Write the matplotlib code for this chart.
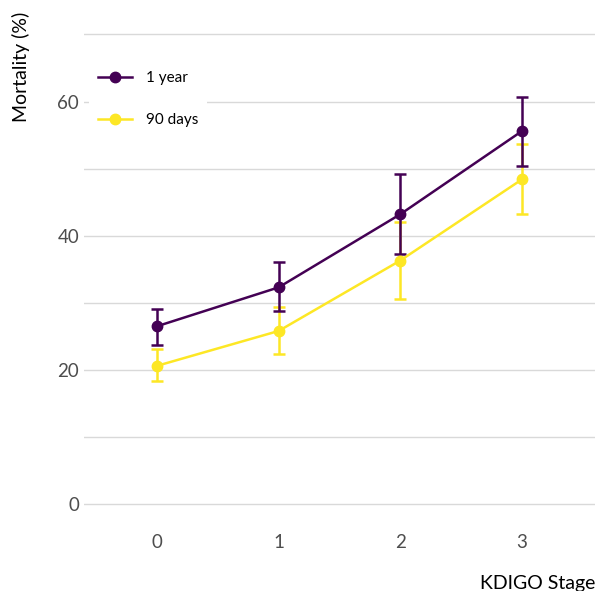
import numpy as np
import matplotlib.pyplot as plt
from matplotlib.ticker import MultipleLocator
from matplotlib.lines import Line2D

plt.rcParams['font.family'] = ['Lato', 'DejaVu Sans']

## data
stages = [0, 1, 2, 3]
year1 = [26.5, 32.3, 43.2, 55.6]
year1_lo = [23.7, 28.8, 37.3, 50.4]
year1_hi = [29.1, 36.1, 49.2, 60.7]
days90 = [20.6, 25.8, 36.3, 48.4]
days90_lo = [18.3, 22.4, 30.5, 43.2]
days90_hi = [23.1, 29.4, 42.0, 53.6]

purple = '#440154'
yellow = '#FDE725'
lw = 1.8

fig = plt.figure(figsize=(5.95, 5.91), dpi=100)
ax = fig.add_axes([0.141, 0.1074, 0.859, 0.874])

# yellow first so purple sits on top
for vals, lo, hi, col in [(days90, days90_lo, days90_hi, yellow),
                          (year1, year1_lo, year1_hi, purple)]:
    vals = np.array(vals)
    err = [vals - np.array(lo), np.array(hi) - vals]
    ax.errorbar(stages, vals, yerr=err, color=col, linewidth=lw,
                elinewidth=lw, capsize=4, capthick=lw,
                marker='o', markersize=7.5)

ax.set_xlim(-0.6, 3.6)
ax.set_ylim(-3.5, 73.5)
ax.set_xticks(stages)
ax.yaxis.set_major_locator(MultipleLocator(20))
ax.yaxis.set_minor_locator(MultipleLocator(10))
ax.grid(True, which='both', axis='y', color='#d9d9d9', linewidth=1.0)
ax.set_axisbelow(True)
for s in ax.spines.values():
    s.set_visible(False)
ax.tick_params(which='both', length=0, labelsize=13.5, labelcolor='#4d4d4d')
ax.tick_params(axis='x', pad=5)
ax.tick_params(axis='y', pad=3.5)

# legend: plain line+point keys, 1 year first
handles = [Line2D([], [], color=purple, linewidth=lw, marker='o', markersize=7.5),
           Line2D([], [], color=yellow, linewidth=lw, marker='o', markersize=7.5)]
leg = ax.legend(handles, ['1 year', '90 days'], loc='upper left',
                bbox_to_anchor=(89 / 595, 1 - 62 / 591),
                bbox_transform=fig.transFigure, borderaxespad=0, fontsize=11,
                frameon=True, facecolor='white', edgecolor='white',
                framealpha=1, handlelength=2.2, handletextpad=0.9,
                labelspacing=1.85, borderpad=0.6)
leg.get_frame().set_linewidth(0)

fig.text(21 / 595, 1 - 12 / 591, 'Mortality (%)', rotation=90,
         ha='center', va='top', fontsize=14)
fig.text(480 / 595, 1 - 589 / 591, 'KDIGO Stage', ha='left',
         va='baseline', fontsize=14)

fig.savefig('out.png', dpi=100)
